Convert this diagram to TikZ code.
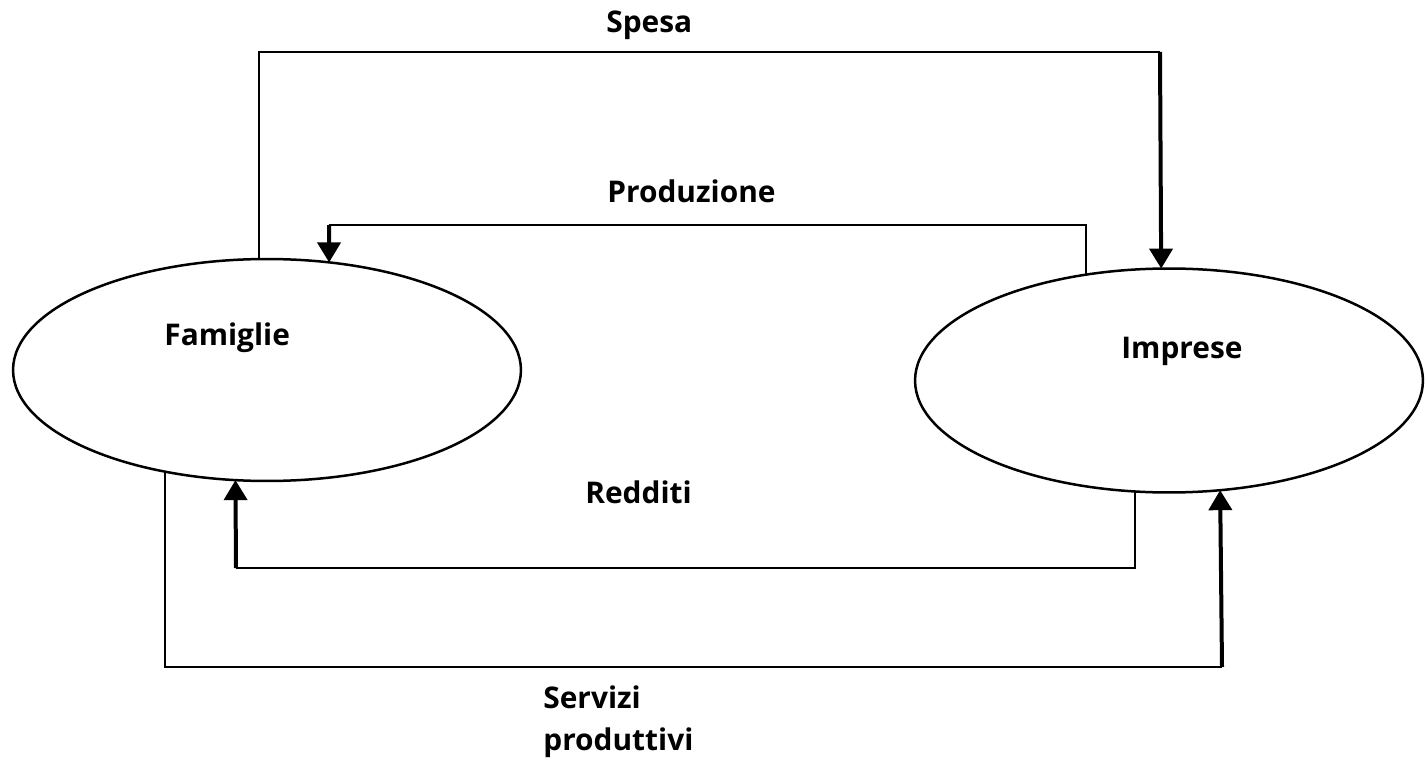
\documentclass[tikz,border=0pt]{standalone}
\usepackage{fontspec}
\setmainfont{Open Sans}
\usetikzlibrary{arrows.meta,shapes.geometric}

\begin{document}
\begin{tikzpicture}[x=0.02cm,y=-0.02cm,
    >={Triangle[width=0.46cm,length=0.4cm]},
    sector/.style = {
      draw,
      ellipse,
      line width = 0.05cm,
      inner sep = 0pt,
      outer sep = 0pt,
      minimum width = 10.16cm,
      minimum height = 4.44cm
    },
    wire/.style = {line width = 0.04cm},
    flow/.style = {line width = 0.08cm, ->},
    tag/.style = {
      anchor = base west,
      inner sep = 0pt,
      font = \fontsize{17}{20}\selectfont\bfseries
    }
  ]
  \useasboundingbox (0,0) rectangle (1427,760);

  \node[sector] (fam) at (267,370) {};
  \node[sector, minimum height = 4.48cm] (imp) at (1169,380.5) {};

  \node[tag] (famtxt) at (164,345) {Famiglie};
  \node[tag] (imptxt) at (1121,358) {Imprese};

  \coordinate (s1) at (1160,52);
  \coordinate (p1) at (329,225);
  \coordinate (r1) at (236,568);
  \coordinate (v1) at (1222,667);

  \draw[wire] (fam.94.1) |- (s1);
  \draw[flow] (s1) -- (imp.94.6);
  \draw[wire] (imp.128.1) |- (p1);
  \draw[flow] (p1) -- (fam.60.05);
  \draw[wire] (imp.253.9) |- (r1);
  \draw[flow] (r1) -- (fam.254.3);
  \draw[wire] (fam.225.6) |- (v1);
  \draw[flow] (v1) -- (imp.295.8);

  \node[tag] (spesa) at (606,33) {Spesa};
  \node[tag] (prod) at (607,203) {Produzione};
  \node[tag] (redd) at (585,503) {Redditi};
  \node[tag] (serv) at (543,708) {Servizi};
  \node[tag] (servb) at (543,750) {produttivi};
\end{tikzpicture}
\end{document}
